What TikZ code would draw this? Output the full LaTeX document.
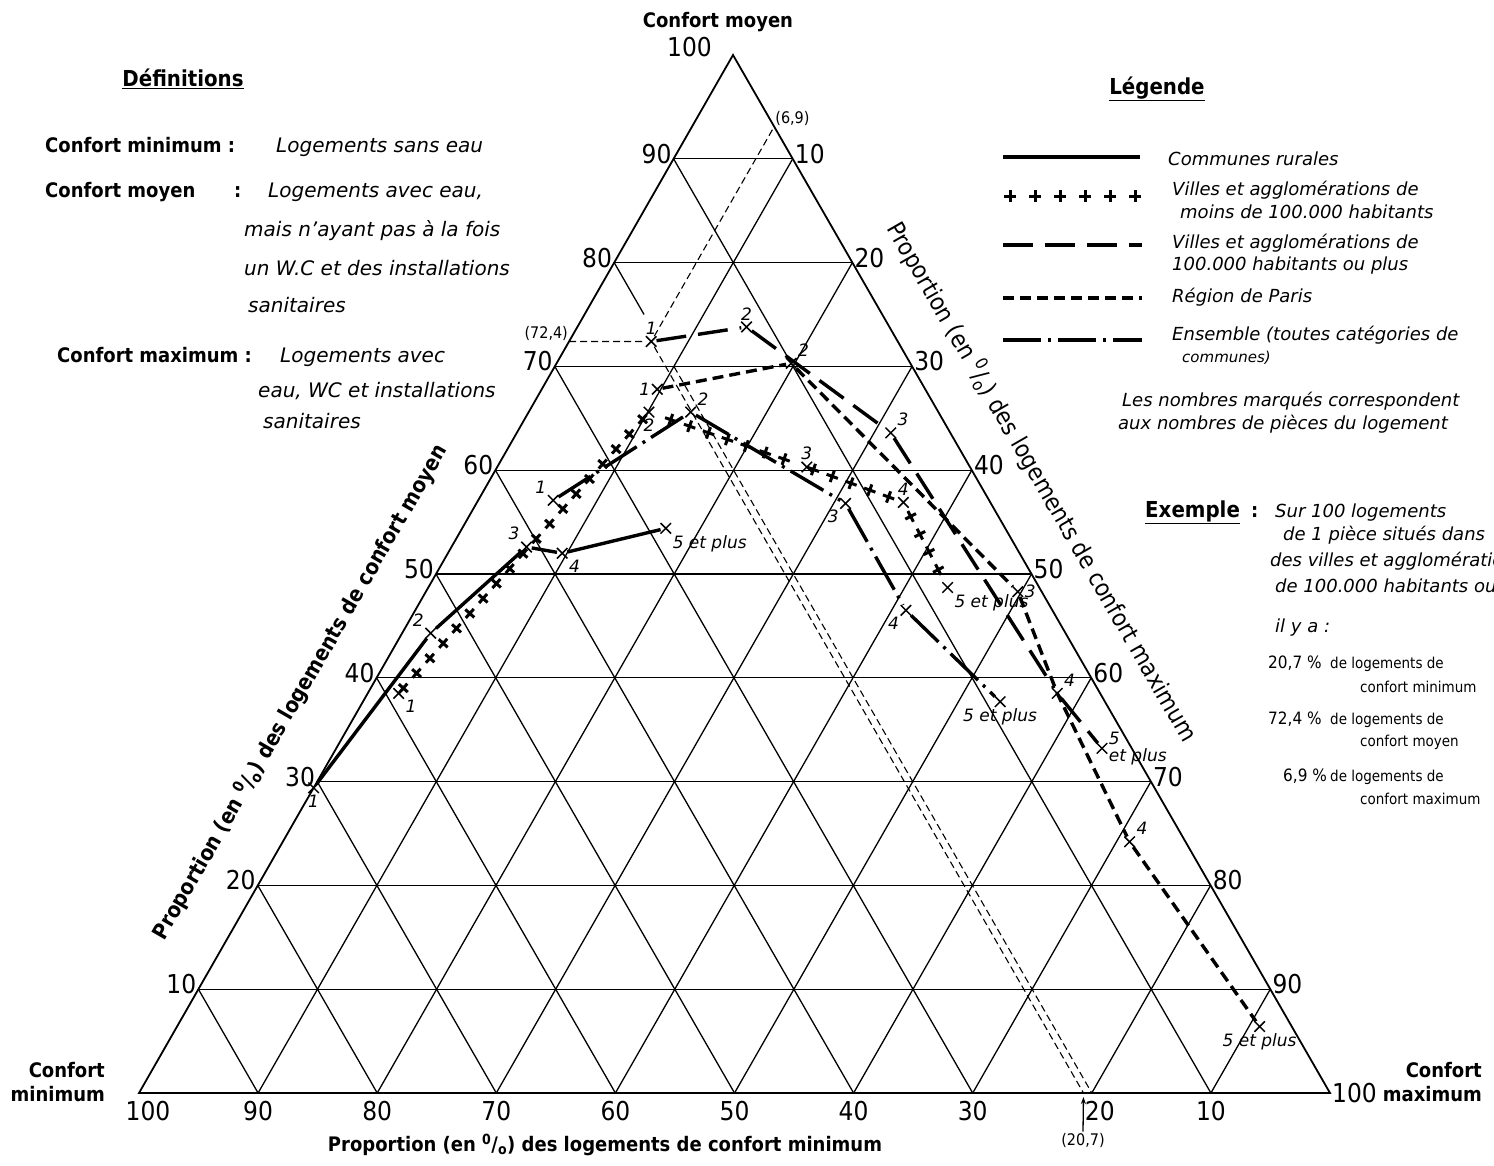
\documentclass[tikz,border=0pt]{standalone}
\usepackage{fontspec}
\setmainfont{DejaVu Sans}
\newfontfamily\condfont{DejaVu Sans Condensed}[
  BoldFont = {DejaVu Sans Condensed Bold},
  ItalicFont = {DejaVu Sans Condensed Oblique}]
\usetikzlibrary{calc,shapes.misc,decorations.markings,arrows.meta}
\tikzset{
  frame line/.style = {line width = 1.8pt},
  grid line/.style = {line width = 1.3pt},
  help line/.style = {line width = 1.1pt, dash pattern = on 7pt off 4pt},
  rural line/.style = {line width = 3.4pt},
  big town line/.style = {line width = 3.4pt, dash pattern = on 30pt off 12pt},
  paris line/.style = {line width = 3.4pt, dash pattern = on 11pt off 6pt},
  total line/.style = {line width = 3.4pt, dash pattern = on 38pt off 7pt on 3pt off 7pt},
  town marks/.style = {
    postaction = {decorate},
    decoration = {markings,
      mark = between positions 0 and 1 step #1 with {
        \draw[line width = 3pt] (-6pt,0) -- (6pt,0) (0,-6pt) -- (0,6pt);}}},
  point cross/.style = {
    shape = cross out, draw, line width = 1.5pt,
    minimum size = 9pt, inner sep = 0pt},
  nb/.style = {font = \fontsize{17}{17}\selectfont\itshape, inner sep = 1.5pt},
  coord text/.style = {font = \condfont\fontsize{16}{16}\selectfont, inner sep = 1pt},
  axis num/.style = {font = \condfont\fontsize{26}{26}\selectfont, inner sep = 2pt},
  title text/.style = {font = \condfont\bfseries\fontsize{20}{24}\selectfont, inner sep = 0pt},
  head text/.style = {font = \condfont\bfseries\fontsize{22}{22}\selectfont, inner sep = 0pt, anchor = base},
  hand text/.style = {font = \fontsize{20}{20}\selectfont\itshape, inner sep = 0pt, anchor = base west},
  legend text/.style = {font = \fontsize{18}{18}\selectfont\itshape, inner sep = 0pt, anchor = base west},
  small text/.style = {font = \condfont\fontsize{15}{15}\selectfont, inner sep = 0pt, anchor = base west}
}

\begin{document}
\begin{tikzpicture}[x = 1pt, y = -1pt, >=Latex]
  \useasboundingbox (0,0) rectangle (1494,1165);
  \clip (0,0) rectangle (1494,1165);

  % corners of the triangle
  \coordinate (BL) at (139,1093);
  \coordinate (BR) at (1330,1093);
  \coordinate (T)  at (733,55);

  % grid
  \foreach \i in {1,...,9} {
    \draw[grid line] ($(BL)!\i/10!(T)$) -- ($(BR)!\i/10!(T)$);
    \draw[grid line] ($(BL)!\i/10!(BR)$) -- ($(T)!\i/10!(BR)$);
  }
  \foreach \i in {1,...,7,9}
    \draw[grid line] ($(BL)!\i/10!(BR)$) -- ($(BL)!\i/10!(T)$);
  \coordinate (b8) at ($(BL)!0.8!(BR)$);
  \coordinate (l8) at ($(BL)!0.8!(T)$);
  \draw[grid line] (l8) -- ($(l8)!0.0625!(b8)$);
  \draw[help line] ($(l8)!0.125!(b8)$) -- (b8);
  \draw[frame line] (BL) -- (BR) -- (T) -- cycle;

  % scales
  \foreach \i in {1,...,9} {
    \pgfmathtruncatemacro\up{10*\i}
    \pgfmathtruncatemacro\dn{100-10*\i}
    \node[axis num, anchor = east, yshift = 5pt] (moy\i) at ($(BL)!\i/10!(T)$) {\up};
    \node[axis num, anchor = west, yshift = 5pt] (max\i) at ($(BR)!\i/10!(T)$) {\dn};
  }
  \foreach \i/\dx in {0/9,1/0,2/0,3/0,4/0,5/0,6/0,7/0,8/8,9/0} {
    \pgfmathtruncatemacro\dn{100-10*\i}
    \node[axis num, anchor = north, yshift = -6pt, xshift = \dx pt] (min\i) at ($(BL)!\i/10!(BR)$) {\dn};
  }
  \node[axis num, anchor = east] (moy10) at ([xshift = -19pt, yshift = 8pt]T) {100};
  \node[axis num, anchor = west] (max10) at (BR) {100};

  % axis titles
  \node[title text] (ttop) at (718,22) {Confort moyen};
  \node[title text, align = right, anchor = east] (tmin) at (105,1082) {Confort\\minimum};
  \node[title text, align = right, anchor = east] (tmax) at (1482,1082) {Confort\\maximum};
  \node[title text] (amin) at (605,1145)
    {Proportion (en \textsuperscript{0}/\textsubscript{o}) des logements de confort minimum};
  \node[title text, font = \condfont\bfseries\fontsize{21.5}{24}\selectfont, rotate = 60] (amoy) at (300,692)
    {Proportion (en \textsuperscript{0}/\textsubscript{o}) des logements de confort moyen};
  \node[title text, font = \condfont\fontsize{24}{24}\selectfont, rotate = -60] (amax) at (1042,482)
    {Proportion (en \textsuperscript{0}/\textsubscript{o}) des logements de confort maximum};

  % communes rurales
  \node[point cross, label = {[nb]below:1}]                (rur1) at (barycentric cs:BL=.706,T=.294,BR=0)    {};
  \node[point cross, label = {[nb]above left:2}]           (rur2) at (barycentric cs:BL=.533,T=.443,BR=.024) {};
  \node[point cross, label = {[nb]above left:3}]           (rur3) at (barycentric cs:BL=.411,T=.526,BR=.063) {};
  \node[point cross, label = {[nb]below right:4}]          (rur4) at (barycentric cs:BL=.384,T=.520,BR=.096) {};
  \node[point cross, label = {[nb]below right:5 et plus}]  (rur5) at (barycentric cs:BL=.285,T=.544,BR=.171) {};
  \draw[rural line] (rur1) -- (rur2) -- (rur3) -- (rur4) -- (rur5);

  % villes de moins de 100.000 habitants
  \node[point cross, label = {[nb]below right:1}]          (vil1) at (barycentric cs:BL=.589,T=.385,BR=.026) {};
  \node[point cross, label = {[nb]below:2}]                (vil2) at (barycentric cs:BL=.243,T=.656,BR=.101) {};
  \node[point cross, label = {[nb]above:3}]                (vil3) at (barycentric cs:BL=.137,T=.603,BR=.260) {};
  \node[point cross, label = {[nb]above:4}]                (vil4) at (barycentric cs:BL=.073,T=.569,BR=.358) {};
  \node[point cross, label = {[nb]below right:5 et plus}]  (vil5) at (barycentric cs:BL=.077,T=.487,BR=.436) {};
  \path[town marks = 20pt] (vil1) -- (vil2) -- (vil3) -- (vil4) -- (vil5);

  % villes de 100.000 habitants ou plus
  \node[point cross, label = {[nb]above:1}]                (agg1) at (barycentric cs:BL=.207,T=.724,BR=.069) {};
  \node[point cross, label = {[nb]above:2}]                (agg2) at (barycentric cs:BL=.120,T=.738,BR=.142) {};
  \node[point cross, label = {[nb]above right:3}]          (agg3) at (barycentric cs:BL=.050,T=.636,BR=.314) {};
  \node[point cross, label = {[nb]above right:4}]          (agg4) at (barycentric cs:BL=.036,T=.385,BR=.579) {};
  \node[point cross, label = {[nb, align = left]right:5\\et plus}] (agg5) at (barycentric cs:BL=.025,T=.332,BR=.643) {};
  \draw[big town line] (agg1) -- (agg2) -- (agg3) -- (agg4) -- (agg5);

  % region de Paris
  \node[point cross, label = {[nb]left:1}]                 (par1) at (barycentric cs:BL=.225,T=.678,BR=.097) {};
  \node[point cross, label = {[nb]above right:2}]          (par2) at (barycentric cs:BL=.100,T=.703,BR=.197) {};
  \node[point cross, label = {[nb]right:3}]                (par3) at (barycentric cs:BL=.020,T=.483,BR=.497) {};
  \node[point cross, label = {[nb]above right:4}]          (par4) at (barycentric cs:BL=.047,T=.242,BR=.711) {};
  \node[point cross, label = {[nb]below:5 et plus}]        (par5) at (barycentric cs:BL=.027,T=.064,BR=.909) {};
  \draw[paris line] (par1) -- (par2) -- (par3) -- (agg4.center) -- (par4) -- (par5);

  % ensemble
  \node[point cross, label = {[nb]above left:1}]           (ens1) at (barycentric cs:BL=.366,T=.571,BR=.063) {};
  \node[point cross, label = {[nb]above right:2}]          (ens2) at (barycentric cs:BL=.208,T=.656,BR=.136) {};
  \node[point cross, label = {[nb]below left:3}]           (ens3) at (barycentric cs:BL=.122,T=.568,BR=.310) {};
  \node[point cross, label = {[nb]below left:4}]           (ens4) at (barycentric cs:BL=.123,T=.465,BR=.412) {};
  \node[point cross, label = {[nb]below:5 et plus}]        (ens5) at (barycentric cs:BL=.088,T=.377,BR=.535) {};
  \draw[total line] (ens1) -- (ens2) -- (ens3) -- (ens4) -- (ens5);

  % reading of the example
  \coordinate (ex1) at (barycentric cs:BL=.276,T=.724,BR=0);
  \coordinate (ex2) at (barycentric cs:BL=0,T=.931,BR=.069);
  \coordinate (ex3) at (barycentric cs:BL=.207,T=0,BR=.793);
  \draw[help line] (ex1) -- (agg1) (agg1) -- (ex2) (agg1) -- (ex3);
  \node[coord text, anchor = south east] (ex1l) at (ex1) {(72,4)};
  \node[coord text, anchor = south west] (ex2l) at (ex2) {(6,9)};
  \node[coord text] (ex3l) at (1083,1140) {(20,7)};
  \draw[-{Stealth[length = 7pt, width = 5pt]}, line width = 1.3pt] (ex3l.north) -- ([yshift = -4pt]ex3);

  % definitions
  \node[head text] (defh) at (183,86) {\underline{Définitions}};
  \node[title text, anchor = base west] (def1) at (45,152) {Confort minimum :};
  \node[hand text] (def1a) at (276,152) {Logements sans eau};
  \node[title text, anchor = base west] (def2) at (45,197) {Confort moyen};
  \node[title text, anchor = base west] (def2c) at (234,197) {:};
  \node[hand text] (def2a) at (268,197) {Logements avec eau,};
  \node[hand text] (def2b) at (244,236) {mais n'ayant pas à la fois};
  \node[hand text] (def2d) at (244,275) {un W.C et des installations};
  \node[hand text] (def2e) at (248,312) {sanitaires};
  \node[title text, anchor = base west] (def3) at (57,362) {Confort maximum :};
  \node[hand text] (def3a) at (280,362) {Logements avec};
  \node[hand text] (def3b) at (258,397) {eau, WC et installations};
  \node[hand text] (def3c) at (263,428) {sanitaires};

  % legend
  \node[head text] (legh) at (1157,94) {\underline{Légende}};
  \draw[rural line] (1003,157) -- (1140,157);
  \path[town marks = 25pt] (1010,196) -- (1140,196);
  \draw[big town line] (1003,245) -- (1142,245);
  \draw[paris line] (1003,298) -- (1142,298);
  \draw[total line] (1003,340) -- (1142,340);
  \node[legend text] (leg1) at (1168,165) {Communes rurales};
  \node[legend text] (leg2) at (1172,195) {Villes et agglomérations de};
  \node[legend text] (leg2b) at (1180,218) {moins de 100.000 habitants};
  \node[legend text] (leg3) at (1172,248) {Villes et agglomérations de};
  \node[legend text] (leg3b) at (1172,270) {100.000 habitants ou plus};
  \node[legend text] (leg4) at (1172,302) {Région de Paris};
  \node[legend text] (leg5) at (1172,340) {Ensemble (toutes catégories de};
  \node[legend text, font = \fontsize{15}{15}\selectfont\itshape] (leg5b) at (1182,362) {communes)};
  \node[legend text] (legn1) at (1122,406) {Les nombres marqués correspondent};
  \node[legend text] (legn2) at (1118,429) {aux nombres de pièces du logement};

  % example
  \node[head text, anchor = base west] (exh) at (1145,517) {\underline{Exemple}};
  \node[title text, anchor = base west] (exc) at (1251,517) {:};
  \node[legend text] (exa) at (1275,517) {Sur 100 logements};
  \node[legend text] (exb) at (1283,540) {de 1 pièce situés dans};
  \node[legend text] (exd) at (1270,566) {des villes et agglomérations};
  \node[legend text] (exe) at (1275,592) {de 100.000 habitants ou plus};
  \node[legend text] (exf) at (1275,632) {il y a :};
  \node[small text, font = \condfont\fontsize{17}{17}\selectfont] (exp1) at (1268,668) {20,7 \%};
  \node[small text] (exq1) at (1330,668) {de logements de};
  \node[small text] (exr1) at (1360,692) {confort minimum};
  \node[small text, font = \condfont\fontsize{17}{17}\selectfont] (exp2) at (1268,724) {72,4 \%};
  \node[small text] (exq2) at (1330,724) {de logements de};
  \node[small text] (exr2) at (1360,746) {confort moyen};
  \node[small text, font = \condfont\fontsize{17}{17}\selectfont] (exp3) at (1283,781) {6,9 \%};
  \node[small text] (exq3) at (1330,781) {de logements de};
  \node[small text] (exr3) at (1360,804) {confort maximum};
\end{tikzpicture}
\end{document}
